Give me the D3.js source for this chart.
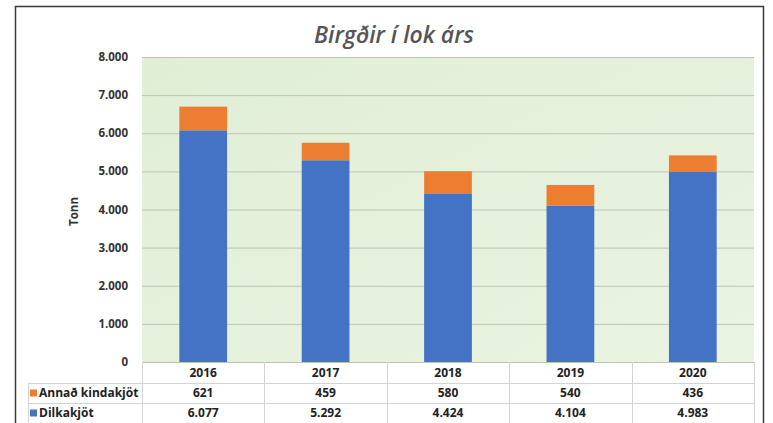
<!DOCTYPE html>
<html>
<head>
<meta charset="utf-8">
<script src="https://cdn.jsdelivr.net/npm/d3@7"></script>
<style>
  html, body { margin: 0; padding: 0; background: #fff; }
  svg { display: block; font-family: "Open Sans", "DejaVu Sans", sans-serif; }
  .tick-label { font-size: 11.5px; font-weight: 700; fill: #333; }
  .cell { font-size: 12px; font-weight: 700; fill: #222; }
</style>
</head>
<body>
<div id="chart"></div>
<script>
(function () {
  "use strict";

  // Data
  const years     = ["2016", "2017", "2018", "2019", "2020"];
  const dilkakjot = [6077, 5292, 4424, 4104, 4983];
  const annad     = [621, 459, 580, 540, 436];
  const seriesNames = ["Annað kindakjöt", "Dilkakjöt"];
  const yTicks    = [0, 1000, 2000, 3000, 4000, 5000, 6000, 7000, 8000];

  const W = 773, H = 423;
  const plot = { left: 142, right: 754, top: 57, bottom: 362 };
  const BLUE = "#4472c4", ORANGE = "#ed7d31";

  const loc = d3.formatLocale({ decimal: ",", thousands: ".", grouping: [3], currency: ["", ""] });
  const fmt = loc.format(",d");

  const svg = d3.select("#chart").append("svg")
    .attr("width", W).attr("height", H);

  // Outer frame
  svg.append("rect")
    .attr("x", 15.5).attr("y", 6.5)
    .attr("width", 748).attr("height", 430)
    .attr("fill", "#fff").attr("stroke", "#3a3a3a").attr("stroke-width", 1.5);

  const x = d3.scaleBand().domain(years).range([plot.left, plot.right])
    .paddingInner(0.61).paddingOuter(0.305);
  const xCol = d3.scaleBand().domain(years).range([plot.left, plot.right]);
  const y = d3.scaleLinear().domain([0, 8000]).range([plot.bottom, plot.top]);

  // Plot background
  const grad = svg.append("defs").append("linearGradient")
    .attr("id", "bg").attr("x1", 0).attr("y1", 0).attr("x2", 1).attr("y2", 1);
  grad.append("stop").attr("offset", "0%").attr("stop-color", "#e1eed6");
  grad.append("stop").attr("offset", "100%").attr("stop-color", "#eaf4e2");
  svg.append("rect")
    .attr("x", plot.left).attr("y", plot.top)
    .attr("width", plot.right - plot.left).attr("height", plot.bottom - plot.top)
    .attr("fill", "url(#bg)");

  // Grid
  svg.append("g")
    .attr("transform", `translate(${plot.left},0)`)
    .call(d3.axisLeft(y).tickValues(yTicks).tickSize(-(plot.right - plot.left)).tickFormat(""))
    .call(g => g.select(".domain").remove())
    .call(g => g.selectAll("line").attr("stroke", "#bcc5b6").attr("stroke-width", 1));

  // Y labels
  svg.append("g").selectAll("text")
    .data(yTicks).join("text")
    .attr("class", "tick-label")
    .attr("x", 128).attr("y", d => y(d))
    .attr("dy", "0.35em").attr("text-anchor", "end")
    .text(d => fmt(d));

  svg.append("text")
    .attr("class", "tick-label")
    .attr("transform", `translate(78,${(plot.top + plot.bottom) / 2 + 2}) rotate(-90)`)
    .attr("text-anchor", "middle")
    .text("Tonn");

  // Bars
  const stacks = years.map((yr, i) => ({ yr, d: dilkakjot[i], a: annad[i] }));
  svg.append("g").selectAll("rect")
    .data(stacks).join("rect")
    .attr("x", d => x(d.yr)).attr("width", x.bandwidth())
    .attr("y", d => y(d.d)).attr("height", d => y(0) - y(d.d))
    .attr("fill", BLUE);
  svg.append("g").selectAll("rect")
    .data(stacks).join("rect")
    .attr("x", d => x(d.yr)).attr("width", x.bandwidth())
    .attr("y", d => y(d.d + d.a)).attr("height", d => y(d.d) - y(d.d + d.a))
    .attr("fill", ORANGE);

  // Title
  svg.append("text")
    .attr("x", 394).attr("y", 43)
    .attr("text-anchor", "middle")
    .attr("font-size", 23).attr("font-style", "italic").attr("font-weight", 600)
    .attr("fill", "#555")
    .text("Birgðir í lok árs");

  // Data table
  const rowY = [plot.bottom, 383, 403, 423];
  const tbl = svg.append("g").attr("stroke", "#d4d4d4").attr("stroke-width", 1);
  tbl.append("line").attr("x1", 28).attr("x2", plot.right).attr("y1", 383.5).attr("y2", 383.5);
  tbl.append("line").attr("x1", 28).attr("x2", plot.right).attr("y1", 403.5).attr("y2", 403.5);
  tbl.append("line").attr("x1", 28.5).attr("x2", 28.5).attr("y1", 383).attr("y2", 423);
  tbl.selectAll(".col").data(years.concat(["end"])).join("line")
    .attr("x1", (d, i) => Math.round(plot.left + i * xCol.bandwidth()) + 0.5)
    .attr("x2", (d, i) => Math.round(plot.left + i * xCol.bandwidth()) + 0.5)
    .attr("y1", plot.bottom).attr("y2", 423);

  svg.append("g").selectAll("text")
    .data(years).join("text")
    .attr("class", "cell")
    .attr("x", d => xCol(d) + xCol.bandwidth() / 2)
    .attr("y", (rowY[0] + rowY[1]) / 2).attr("dy", "0.36em")
    .attr("text-anchor", "middle")
    .text(d => d);

  const rows = [
    { name: seriesNames[0], color: ORANGE, vals: annad },
    { name: seriesNames[1], color: BLUE, vals: dilkakjot }
  ];
  rows.forEach((r, ri) => {
    const cy = (rowY[ri + 1] + rowY[ri + 2]) / 2;
    svg.append("rect")
      .attr("x", 30).attr("y", cy - 3.5).attr("width", 7).attr("height", 7)
      .attr("fill", r.color);
    svg.append("text")
      .attr("class", "cell")
      .attr("x", 39).attr("y", cy).attr("dy", "0.36em")
      .text(r.name);
    svg.append("g").selectAll("text")
      .data(r.vals).join("text")
      .attr("class", "cell")
      .attr("x", (d, i) => xCol(years[i]) + xCol.bandwidth() / 2)
      .attr("y", cy).attr("dy", "0.36em")
      .attr("text-anchor", "middle")
      .text(d => fmt(d));
  });
})();
</script>
</body>
</html>
